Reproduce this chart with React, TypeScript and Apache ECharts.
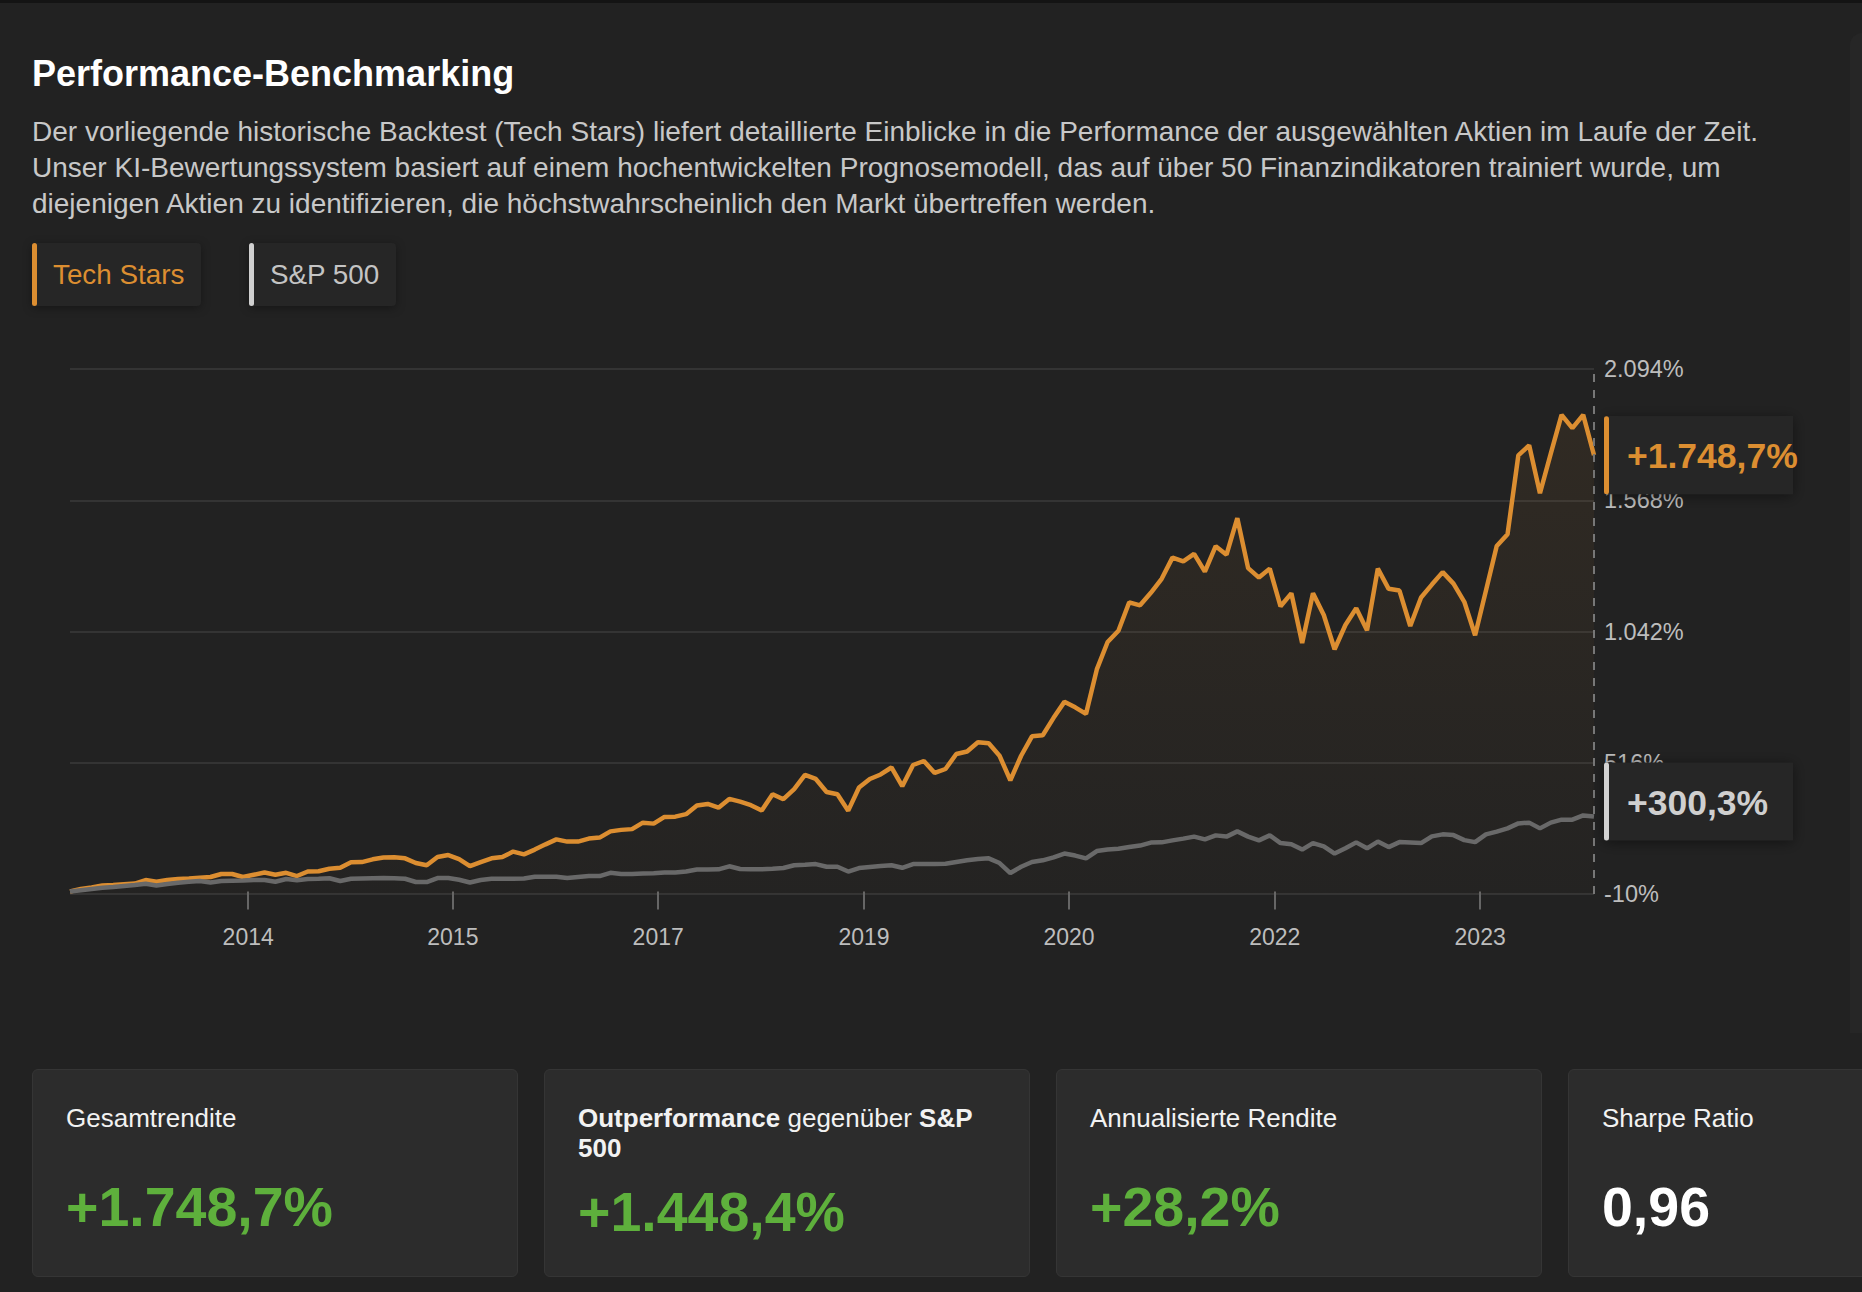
import React, { useEffect, useRef } from 'react';
import * as echarts from 'echarts';

// ---------------- data ----------------
const START_YEAR = 2013; // monthly points starting January 2013

const TECH_STARS = [
  0, 10, 16, 24, 26, 29, 32, 46, 39, 46,
  50, 52, 55, 58, 70, 70, 58, 67, 76, 67,
  75, 62, 80, 81, 91, 95, 117, 118, 129, 136,
  137, 133, 114, 105, 138, 146, 130, 102, 118, 133,
  138, 160, 149, 168, 189, 209, 200, 200, 212, 216,
  241, 247, 250, 276, 272, 299, 300, 310, 345, 351,
  336, 371, 360, 346, 325, 390, 370, 410, 467, 451,
  399, 390, 324, 417, 451, 469, 497, 422, 507, 523,
  475, 491, 551, 561, 598, 594, 544, 446, 544, 622,
  626, 696, 760, 738, 712, 890, 1000, 1045, 1159, 1147,
  1197, 1253, 1338, 1323, 1353, 1282, 1384, 1350, 1496, 1296,
  1258, 1294, 1143, 1195, 996, 1195, 1108, 971, 1068, 1135,
  1047, 1294, 1213, 1206, 1064, 1178, 1230, 1280, 1234, 1161,
  1027, 1205, 1385, 1432, 1748, 1788, 1596, 1755, 1910, 1857,
  1910, 1748.7,
];

const SP500 = [
  0, 5, 10, 15, 18, 22, 26, 31, 24, 30,
  35, 39, 42, 36, 42, 43, 44, 46, 46, 39,
  50, 45, 50, 51, 53, 42, 51, 52, 53, 54,
  53, 51, 38, 38, 54, 54, 47, 36, 46, 51,
  51, 51, 52, 59, 59, 59, 54, 58, 62, 62,
  75, 70, 70, 72, 73, 76, 76, 80, 88, 88,
  89, 101, 90, 89, 89, 91, 94, 105, 107, 110,
  99, 99, 80, 94, 98, 102, 105, 95, 110, 110,
  110, 111, 118, 125, 130, 133, 114, 74, 99, 118,
  125, 137, 152, 144, 133, 162, 168, 171, 178, 184,
  196, 197, 205, 212, 220, 209, 225, 220, 241, 220,
  205, 225, 194, 189, 168, 194, 181, 152, 173, 197,
  173, 200, 178, 198, 196, 194, 221, 229, 226, 206,
  198, 229, 240, 253, 273, 276, 253, 276, 288, 288,
  305, 300.3,
];

const TICK_DATES = ['2014-05-16', '2015-12-14', '2017-07-14', '2019-02-14', '2020-09-14', '2022-04-15', '2023-11-15'];

const Y_MIN = -10;
const Y_MAX = 2094;
const Y_INTERVAL = 526;

const SERIES_NAMES = ['Tech Stars', 'S&P 500'];

const STAT_VALUES = {
  total: 1748.7,
  outperf: 1448.4,
  annual: 28.2,
  sharpe: 0.96,
};

// ---------------- helpers ----------------
// x positions as decimal years (month start)
const XS = TECH_STARS.map((_, i) => START_YEAR + i / 12);
const TICK_X = TICK_DATES.map((s) => {
  const [y, m, d] = s.split('-').map(Number);
  const dim = new Date(y, m, 0).getDate();
  return y + (m - 1 + (d - 1) / dim) / 12;
});

function de(v: number, decimals = 0): string {
  const neg = v < 0;
  const fixed = Math.abs(v).toFixed(decimals);
  const [int, frac] = fixed.split('.');
  const intFmt = int.replace(/\B(?=(\d{3})+(?!\d))/g, '.');
  return (neg ? '-' : '') + intFmt + (frac ? ',' + frac : '');
}
const signed = (v: number, d: number) => (v >= 0 ? '+' : '') + de(v, d);

const ORANGE = '#dc8e31';
const GRAY_LINE = '#696969';
const GREEN = '#5eb03c';
const FONT = '"Liberation Sans", Arial, Helvetica, sans-serif';
const AXIS_LABEL = '#bdbdbd';

function Chart() {
  const ref = useRef<HTMLDivElement>(null);
  useEffect(() => {
    if (!ref.current) return;
    const chart = echarts.init(ref.current, null, { renderer: 'svg' });
    const last = XS.length - 1;
    const option: any = {
      animation: false,
      backgroundColor: 'transparent',
      grid: { left: 70, top: 69, width: 1524, height: 525, containLabel: false, outerBoundsMode: 'none' },
      xAxis: {
        type: 'value',
        min: XS[0],
        max: XS[last],
        axisLine: { show: false },
        splitLine: { show: false },
        axisTick: {
          show: true,
          customValues: TICK_X,
          length: 18,
          lineStyle: { color: '#666666', width: 2 },
        },
        axisLabel: {
          show: true,
          customValues: TICK_X,
          formatter: (v: number) => String(Math.floor(v + 1e-9)),
          color: AXIS_LABEL,
          fontSize: 23,
          lineHeight: 23,
          fontFamily: FONT,
          margin: 31,
        },
      },
      yAxis: {
        type: 'value',
        position: 'right',
        min: Y_MIN,
        max: Y_MAX,
        interval: Y_INTERVAL,
        axisLine: { show: false },
        axisTick: { show: false },
        splitLine: { show: true, lineStyle: { color: '#343434', width: 2 } },
        axisLabel: {
          formatter: (v: number) => de(v) + '%',
          color: AXIS_LABEL,
          fontSize: 23.5,
          fontFamily: FONT,
          margin: 10,
          showMinLabel: true,
          showMaxLabel: true,
        },
      },
      series: [
        {
          name: SERIES_NAMES[0],
          type: 'line',
          data: XS.map((x, i) => [x, TECH_STARS[i]]),
          showSymbol: false,
          symbol: 'none',
          lineStyle: { color: ORANGE, width: 4.5 },
          itemStyle: { color: ORANGE },
          areaStyle: {
            origin: 'start',
            color: {
              type: 'linear', x: 0, y: 0, x2: 0, y2: 1,
              colorStops: [
                { offset: 0, color: 'rgba(220,142,49,0.11)' },
                { offset: 1, color: 'rgba(220,142,49,0.015)' },
              ],
            },
          },
          markLine: {
            silent: true,
            symbol: ['none', 'none'],
            label: { show: false },
            lineStyle: { color: '#777777', width: 2, type: [8, 8] },
            data: [{ xAxis: XS[last] }],
          },
          z: 2,
        },
        {
          name: SERIES_NAMES[1],
          type: 'line',
          data: XS.map((x, i) => [x, SP500[i]]),
          showSymbol: false,
          symbol: 'none',
          lineStyle: { color: GRAY_LINE, width: 4.5 },
          itemStyle: { color: GRAY_LINE },
          z: 3,
        },
      ],
    };
    chart.setOption(option);

    const p1 = chart.convertToPixel({ gridIndex: 0 }, [XS[last], TECH_STARS[last]]) as number[];
    const p2 = chart.convertToPixel({ gridIndex: 0 }, [XS[last], SP500[last]]) as number[];
    const box = (px: number, cy: number, text: string, barColor: string, textColor: string) => ({
      type: 'group',
      x: px + 10,
      y: cy - 39,
      z: 100,
      children: [
        {
          type: 'rect',
          shape: { x: 0, y: 0, width: 189, height: 78 },
          style: { fill: '#262626', shadowBlur: 14, shadowColor: 'rgba(0,0,0,0.45)', shadowOffsetY: 2 },
          z: 100,
        },
        {
          type: 'rect',
          shape: { x: 0, y: 0, width: 5, height: 78, r: 2.5 },
          style: { fill: barColor },
          z: 101,
        },
        {
          type: 'text',
          x: 23,
          y: 40,
          style: {
            text,
            fill: textColor,
            fontSize: 35.5,
            fontWeight: 'bold',
            fontFamily: FONT,
            align: 'left',
            verticalAlign: 'middle',
          },
          z: 102,
        },
      ],
    });
    if (p1 && p2) {
      chart.setOption({
        graphic: [
          box(p1[0], p1[1], signed(TECH_STARS[last], 1) + '%', ORANGE, ORANGE),
          box(p2[0], p2[1] - 15, signed(SP500[last], 1) + '%', '#d2d2d2', '#cfcfcf'),
        ],
      });
    }
    return () => chart.dispose();
  }, []);
  return <div ref={ref} style={{ position: 'absolute', left: 0, top: 300, width: 1850, height: 680 }} />;
}

const legendBtn = (left: number, width: number, color: string): React.CSSProperties => ({
  position: 'absolute',
  left,
  top: 243,
  width,
  height: 63,
  boxSizing: 'border-box',
  background: '#262626',
  borderRadius: 4,
  boxShadow: '0 2px 10px rgba(0,0,0,0.35)',
  display: 'flex',
  alignItems: 'center',
  paddingLeft: 21,
  fontSize: 27.8,
  color,
  whiteSpace: 'nowrap',
});

const barStyle = (color: string): React.CSSProperties => ({
  position: 'absolute',
  left: 0,
  top: 0,
  width: 5,
  height: '100%',
  background: color,
  borderRadius: 3,
});

const cardStyle = (k: number): React.CSSProperties => ({
  position: 'absolute',
  left: 32 + k * 512,
  top: 1069,
  width: 486,
  height: 208,
  boxSizing: 'border-box',
  background: '#2c2c2c',
  border: '1px solid #353535',
  borderRadius: 6,
  padding: '33px 33px',
});
const cardLabel: React.CSSProperties = { fontSize: 26, lineHeight: '30px', minHeight: 55, color: '#f2f2f2' };
const cardValue = (color: string): React.CSSProperties => ({
  fontSize: 55.5,
  lineHeight: '55px',
  fontWeight: 'bold',
  marginTop: 22,
  color,
  whiteSpace: 'nowrap',
});

export default function App() {
  return (
    <div
      style={{
        position: 'relative',
        width: 1862,
        height: 1292,
        overflow: 'hidden',
        background: '#222222',
        fontFamily: FONT,
      }}
    >
      <style>{`html,body{margin:0;padding:0;background:#222222;overflow:hidden;}`}</style>
      <div style={{ position: 'absolute', left: 0, top: 0, width: '100%', height: 3, background: '#141414' }} />
      <div
        style={{
          position: 'absolute',
          left: 1850,
          top: 33,
          width: 30,
          height: 1000,
          background: '#262626',
          borderTopLeftRadius: 12,
        }}
      />
      <div
        style={{
          position: 'absolute',
          left: 32,
          top: 56,
          fontSize: 36,
          lineHeight: '36px',
          fontWeight: 'bold',
          color: '#ffffff',
          whiteSpace: 'nowrap',
        }}
      >
        Performance-Benchmarking
      </div>
      <div
        style={{
          position: 'absolute',
          left: 32,
          top: 114,
          fontSize: 28,
          lineHeight: '36px',
          color: '#c8c8c8',
          whiteSpace: 'nowrap',
        }}
      >
        <div>Der vorliegende historische Backtest (Tech Stars) liefert detaillierte Einblicke in die Performance der ausgewählten Aktien im Laufe der Zeit.</div>
        <div>Unser KI-Bewertungssystem basiert auf einem hochentwickelten Prognosemodell, das auf über 50 Finanzindikatoren trainiert wurde, um</div>
        <div>diejenigen Aktien zu identifizieren, die höchstwahrscheinlich den Markt übertreffen werden.</div>
      </div>

      <div style={legendBtn(32, 169, ORANGE)}>
        <div style={barStyle(ORANGE)} />
        {SERIES_NAMES[0]}
      </div>
      <div style={legendBtn(249, 147, '#c4c4c4')}>
        <div style={barStyle('#d0d0d0')} />
        {SERIES_NAMES[1]}
      </div>

      <Chart />

      <div style={cardStyle(0)}>
        <div style={cardLabel}>Gesamtrendite</div>
        <div style={cardValue(GREEN)}>{signed(STAT_VALUES.total, 1)}%</div>
      </div>
      <div style={cardStyle(1)}>
        <div style={cardLabel}>
          <b>Outperformance</b> gegenüber <b>S&amp;P</b>
          <br />
          <b>500</b>
        </div>
        <div style={cardValue(GREEN)}>{signed(STAT_VALUES.outperf, 1)}%</div>
      </div>
      <div style={cardStyle(2)}>
        <div style={cardLabel}>Annualisierte Rendite</div>
        <div style={cardValue(GREEN)}>{signed(STAT_VALUES.annual, 1)}%</div>
      </div>
      <div style={cardStyle(3)}>
        <div style={cardLabel}>Sharpe Ratio</div>
        <div style={cardValue('#ffffff')}>{de(STAT_VALUES.sharpe, 2)}</div>
      </div>
    </div>
  );
}
